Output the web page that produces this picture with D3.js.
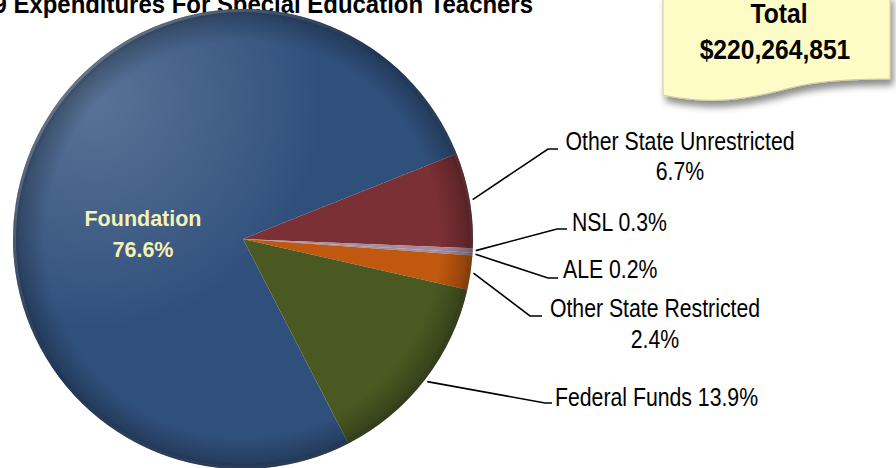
<!DOCTYPE html>
<html>
<head>
<meta charset="utf-8">
<script src="https://cdn.jsdelivr.net/npm/d3@7"></script>
<style>
  html, body { margin: 0; padding: 0; background: #ffffff; }
  svg { display: block; }
</style>
</head>
<body>
<svg id="chart" width="896" height="468"></svg>
<script>
// ---- data ----
const categories = ["Foundation", "Other State Unrestricted", "NSL", "ALE", "Other State Restricted", "Federal Funds"];
const shares = [76.6, 6.7, 0.3, 0.2, 2.4, 13.9];
const pctLabels = ["76.6%", "6.7%", "0.3%", "0.2%", "2.4%", "13.9%"];
const titleText = "2008-09 Expenditures For Special Education Teachers";
const totalLines = ["Total", "$220,264,851"];

// ---- styles / layout ----
const sliceColors = ["#30507c", "#7a3035", "#a88a9c", "#9c8ea4", "#c0580f", "#4a5922"];
const cx = 243, cy = 239, R = 230;
const startDeg = 68.5 - 360 * 0.766;

// label layout: elbow, end of leader, text lines, anchor position
const labelLayout = [
  null,
  { elbow: [548, 149], end: [558, 149], lines: ["Other State Unrestricted", pctLabels[1]], x: 680, ys: [150, 180], anchor: "middle" },
  { elbow: [557, 229], end: [567, 229], lines: ["NSL " + pctLabels[2]], x: 572, ys: [231], anchor: "start" },
  { elbow: [548, 278], end: [558, 278], lines: ["ALE " + pctLabels[3]], x: 563, ys: [278], anchor: "start" },
  { elbow: [530, 316], end: [542, 316], lines: ["Other State Restricted", pctLabels[4]], x: 655, ys: [317, 348], anchor: "middle" },
  { elbow: [545, 403], end: [552, 403], lines: ["Federal Funds " + pctLabels[5]], x: 555, ys: [406], anchor: "start" }
];

const svg = d3.select("#chart");
const defs = svg.append("defs");

// rim darkening
const rim = defs.append("radialGradient").attr("id", "rim")
  .attr("gradientUnits", "userSpaceOnUse").attr("cx", cx).attr("cy", cy).attr("r", R);
rim.append("stop").attr("offset", "0%").attr("stop-color", "#000").attr("stop-opacity", 0);
rim.append("stop").attr("offset", "86%").attr("stop-color", "#000").attr("stop-opacity", 0);
rim.append("stop").attr("offset", "97%").attr("stop-color", "#000").attr("stop-opacity", 0.22);
rim.append("stop").attr("offset", "100%").attr("stop-color", "#000").attr("stop-opacity", 0.38);

// highlight upper-left
const hl = defs.append("radialGradient").attr("id", "hl")
  .attr("gradientUnits", "userSpaceOnUse").attr("cx", cx - 150).attr("cy", cy - 140).attr("r", 230);
hl.append("stop").attr("offset", "0%").attr("stop-color", "#fff").attr("stop-opacity", 0.2);
hl.append("stop").attr("offset", "100%").attr("stop-color", "#fff").attr("stop-opacity", 0);

// rim light on upper-left edge
const rl = defs.append("linearGradient").attr("id", "rl")
  .attr("x1", "0").attr("y1", "0").attr("x2", "1").attr("y2", "1");
rl.append("stop").attr("offset", "0%").attr("stop-color", "#fff").attr("stop-opacity", 0.35);
rl.append("stop").attr("offset", "45%").attr("stop-color", "#fff").attr("stop-opacity", 0);
rl.append("stop").attr("offset", "100%").attr("stop-color", "#000").attr("stop-opacity", 0.25);

const shadow = defs.append("filter").attr("id", "noteShadow")
  .attr("x", "-10%").attr("y", "-10%").attr("width", "130%").attr("height", "140%");
shadow.append("feDropShadow").attr("dx", 3).attr("dy", 6).attr("stdDeviation", 3.5)
  .attr("flood-color", "#000").attr("flood-opacity", 0.45);

// ---- title ----
svg.append("text")
  .attr("transform", "translate(533,13) scale(0.9,1)")
  .attr("text-anchor", "end")
  .style("font-family", "Arial, 'Liberation Sans', sans-serif")
  .style("font-weight", "bold")
  .style("font-size", "26.6px")
  .attr("fill", "#000")
  .text(titleText);

// ---- pie ----
const pie = d3.pie().sort(null).value(d => d)
  .startAngle(startDeg * Math.PI / 180)
  .endAngle((startDeg + 360) * Math.PI / 180);
const arcs = pie(shares);
const arc = d3.arc().innerRadius(0).outerRadius(R);
const g = svg.append("g").attr("transform", `translate(${cx},${cy})`);

g.selectAll("path.slice").data(arcs).join("path")
  .attr("class", "slice")
  .attr("d", arc)
  .attr("fill", (d, i) => sliceColors[i]);

svg.append("circle").attr("cx", cx).attr("cy", cy).attr("r", R).attr("fill", "url(#hl)");
svg.append("circle").attr("cx", cx).attr("cy", cy).attr("r", R).attr("fill", "url(#rim)");
svg.append("circle").attr("cx", cx).attr("cy", cy).attr("r", R - 1.5)
  .attr("fill", "none").attr("stroke", "url(#rl)").attr("stroke-width", 3);

// ---- Foundation label ----
const fLab = svg.append("text")
  .attr("text-anchor", "middle")
  .style("font-family", "Arial, 'Liberation Sans', sans-serif")
  .style("font-weight", "bold")
  .style("font-size", "21.5px")
  .attr("fill", "#f6f1b4");
fLab.append("tspan").attr("x", 143).attr("y", 226).text(categories[0]);
fLab.append("tspan").attr("x", 143).attr("y", 257).text(pctLabels[0]);

// ---- leader lines and labels ----
const edgeArc = d3.arc().innerRadius(R + 3).outerRadius(R + 3);
arcs.forEach((a, i) => {
  const L = labelLayout[i];
  if (!L) return;
  const c = edgeArc.centroid(a);
  const p0 = [cx + c[0], cy + c[1]];
  svg.append("path")
    .attr("d", d3.line()([p0, L.elbow, L.end]))
    .attr("fill", "none").attr("stroke", "#000").attr("stroke-width", 1.6);
  L.lines.forEach((t, k) => {
    svg.append("text")
      .attr("transform", `translate(${L.x},${L.ys[k]}) scale(0.85,1)`)
      .attr("text-anchor", L.anchor)
      .style("font-family", "Arial, 'Liberation Sans', sans-serif")
      .style("font-size", "25px")
      .attr("fill", "#000")
      .text(t);
  });
});

// ---- Total note ----
const note = svg.append("g");
note.append("path")
  .attr("d", "M663,-5 L890,-5 L890,79 C860,79 820,80 790,88 C760,96 730,102 700,100 C685,99 672,97 663,95 Z")
  .attr("fill", "#fdfbc6")
  .attr("stroke", "#cfcc9a")
  .attr("stroke-width", 1)
  .attr("filter", "url(#noteShadow)");
const noteText = note.append("g");
totalLines.forEach((t, k) => {
  noteText.append("text")
    .attr("transform", `translate(${k === 0 ? 779 : 775},${k === 0 ? 23 : 59}) scale(0.88,1)`)
    .attr("text-anchor", "middle")
    .style("font-family", "Arial, 'Liberation Sans', sans-serif")
    .style("font-weight", "bold")
    .style("font-size", "28px")
    .attr("fill", "#000")
    .text(t);
});
</script>
</body>
</html>
